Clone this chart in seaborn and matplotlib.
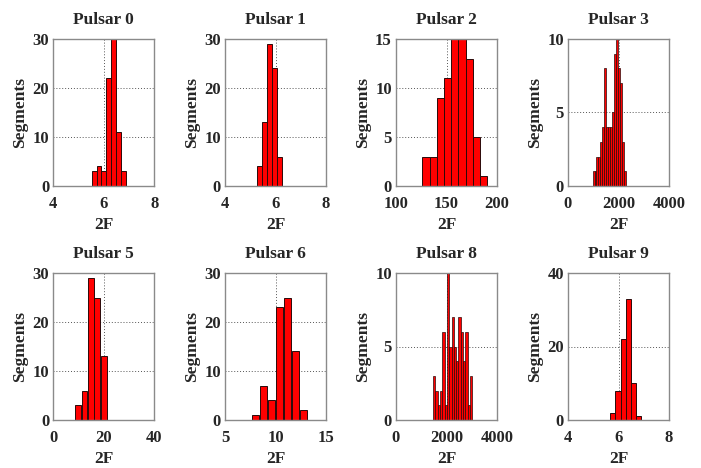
import numpy as np
import pandas as pd
import matplotlib
matplotlib.use("Agg")
import matplotlib.pyplot as plt
import seaborn as sns

sns.set_theme(style="white")
plt.rcParams["font.family"] = ["Liberation Serif", "DejaVu Serif"]
plt.rcParams["font.weight"] = "bold"

# Per-pulsar histogram of 2F values over segments
titles = ["Pulsar 0", "Pulsar 1", "Pulsar 2", "Pulsar 3",
          "Pulsar 5", "Pulsar 6", "Pulsar 8", "Pulsar 9"]

counts_p0 = [3, 4, 3, 22, 30, 11, 3]
counts_p1 = [4, 13, 29, 24, 6]
counts_p2 = [3, 3, 9, 11, 15, 15, 13, 5, 1]
counts_p3 = [1, 1, 2, 2, 3, 4, 8, 4, 4, 4, 5, 9, 10, 8, 7, 3, 1]
counts_p5 = [3, 6, 29, 25, 13]
counts_p6 = [1, 7, 4, 23, 25, 14, 2]
counts_p8 = [3, 2, 1, 2, 6, 1, 10, 5, 7, 5, 4, 7, 6, 4, 6, 1, 3]
counts_p9 = [2, 8, 22, 33, 10, 1]
all_counts = [counts_p0, counts_p1, counts_p2, counts_p3,
              counts_p5, counts_p6, counts_p8, counts_p9]

# Lower and upper bounds of the binned 2F range
range_lo = [5.52, 5.285, 126.2, 973, 8.5, 7.58, 1470, 5.68]
range_hi = [6.874, 6.27, 190.4, 2289, 21.25, 13.2, 3020, 6.887]

x_ticks = [[4, 6, 8], [4, 6, 8], [100, 150, 200], [0, 2000, 4000],
           [0, 20, 40], [5, 10, 15], [0, 2000, 4000], [4, 6, 8]]
y_ticks = [[0, 10, 20, 30], [0, 10, 20, 30], [0, 5, 10, 15], [0, 5, 10],
           [0, 10, 20, 30], [0, 10, 20, 30], [0, 5, 10], [0, 20, 40]]
bar_shrink = [1, 1, 1, 1, 0.88, 0.88, 1, 1]
edge_width = [0.7, 0.7, 0.7, 0.5, 0.7, 0.7, 0.5, 0.7]

W, H = 701, 468
fig = plt.figure(figsize=(W / 100, H / 100), dpi=100)

col_left = [53.3, 225.0, 396.0, 568.0]
row_bottom = [186.0, 420.0]
ax_w, ax_h = 101.0, 147.0

for i, title in enumerate(titles):
    r, c = divmod(i, 4)
    ax = fig.add_axes([col_left[c] / W, 1 - row_bottom[r] / H, ax_w / W, ax_h / H])
    cnt = np.array(all_counts[i], dtype=float)
    nbin = len(cnt)
    lo, hi = range_lo[i], range_hi[i]
    width = (hi - lo) / nbin
    df = pd.DataFrame({"value": lo + width * (np.arange(nbin) + 0.5),
                       "count": cnt})
    sns.histplot(data=df, x="value", weights="count", bins=nbin,
                 binrange=(lo, hi), ax=ax,
                 color="#ff0000", edgecolor="#2a0a0a",
                 linewidth=edge_width[i],
                 alpha=1, shrink=bar_shrink[i], zorder=2)

    ax.set_xlim(x_ticks[i][0], x_ticks[i][-1])
    ax.set_ylim(y_ticks[i][0], y_ticks[i][-1])
    ax.set_xticks(x_ticks[i])
    ax.set_yticks(y_ticks[i])
    ax.set_axisbelow(True)
    ax.grid(True, linestyle=(0, (1, 2)), color="#555555", linewidth=0.7)
    for s in ax.spines.values():
        s.set_color("#8a8a8a")
        s.set_linewidth(1.0)
        s.set_zorder(3)
    ax.tick_params(direction="in", length=3, color="#8a8a8a",
                   labelsize=12, pad=3)
    ax.tick_params(axis="x", pad=7)
    for lab in ax.get_xticklabels() + ax.get_yticklabels():
        lab.set_fontweight("bold")
    ax.set_title(title, fontsize=12.5, fontweight="bold", pad=11)
    ax.set_xlabel("2F", fontsize=12.5, fontweight="bold", labelpad=4)
    ax.set_ylabel("Segments", fontsize=12.5, fontweight="bold", labelpad=3)

fig.savefig("out.png", dpi=100)
